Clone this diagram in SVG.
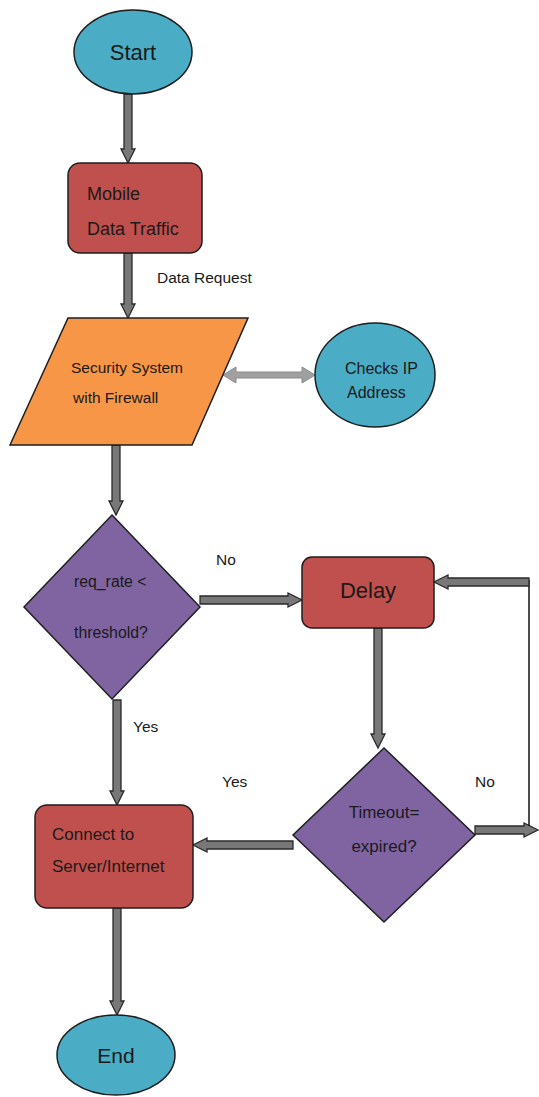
<svg xmlns="http://www.w3.org/2000/svg" width="539" height="1097" viewBox="0 0 539 1097">
<style>
.sh{stroke:#1e1e1e;stroke-width:1.5}
.teal{fill:#4BACC6}
.red{fill:#C0504D}
.org{fill:#F79646}
.pur{fill:#8064A2}
text{font-family:"Liberation Sans",Arial,sans-serif;fill:#1a1a1a}
.arr{fill:#787878;stroke:#2a2a2a;stroke-width:1.3;stroke-linejoin:miter}
.lt{fill:#a0a0a0;stroke:#8a8a8a;stroke-width:1}
</style>
<rect width="539" height="1097" fill="#ffffff"/>
<g id="connectors">
<polygon class="arr" points="124,94 132,94 132,149 135,149 128,163 121,149 124,149"/>
<polygon class="arr" points="124,253 132,253 132,304 135,304 128,318 121,304 124,304"/>
<polygon class="arr" points="112,445 120,445 120,501 123,501 116,515 109,501 112,501"/>
<polygon class="arr" points="200,596 200,604 288,604 288,607 302,600 288,593 288,596"/>
<polygon class="arr" points="113,700 121,700 121,791 124,791 117,805 110,791 113,791"/>
<polygon class="arr" points="374,628 382,628 382,734 385,734 378,748 371,734 374,734"/>
<polygon class="arr" points="293,841 293,849 207,849 207,852 193,845 207,838 207,841"/>
<polygon class="arr" points="475,826 475,834 524,834 524,837 538,830 524,823 524,826"/>
<line x1="529" y1="580" x2="529" y2="826" stroke="#111" stroke-width="1.5"/>
<polygon class="arr" points="529,578 529,586 448,586 448,589 434,582 448,575 448,578"/>
<polygon class="arr" points="113,908 121,908 121,1001 124,1001 117,1015 110,1001 113,1001"/>
<polygon class="lt" points="223,375 236,367 236,372 302,372 302,367 315,375 302,383 302,378 236,378 236,383"/>
</g>
<g id="start"><ellipse class="teal sh" cx="133" cy="52" rx="59" ry="42"/><text x="133" y="60" font-size="22" text-anchor="middle">Start</text></g>
<g id="mobile"><rect class="red sh" x="68" y="163" width="134" height="90" rx="12"/><text x="87" y="200" font-size="18">Mobile</text><text x="87" y="235" font-size="18">Data Traffic</text></g>
<g id="label-data-request"><text x="157" y="283" font-size="15.5">Data Request</text></g>
<g id="security"><polygon class="org sh" points="68,318 248,318 192,445 10,445"/><text x="71" y="373" font-size="15.5">Security System</text><text x="73" y="403" font-size="15.5">with Firewall</text></g>
<g id="checks"><ellipse class="teal sh" cx="375" cy="375" rx="60" ry="52"/><text x="345" y="374" font-size="16">Checks IP</text><text x="347" y="398" font-size="16">Address</text></g>
<g id="decision1"><polygon class="pur sh" points="112,515 200,607 112,699 24,607"/><text x="74" y="587" font-size="15.8">req_rate &lt;</text><text x="74" y="638" font-size="15.8">threshold?</text></g>
<g id="label-no1"><text x="216" y="565" font-size="15.5">No</text></g>
<g id="delay"><rect class="red sh" x="302" y="557" width="132" height="71" rx="10"/><text x="368" y="598" font-size="22" text-anchor="middle">Delay</text></g>
<g id="label-yes1"><text x="133" y="732" font-size="15.5">Yes</text></g>
<g id="label-yes2"><text x="222" y="787" font-size="15.5">Yes</text></g>
<g id="label-no2"><text x="475" y="787" font-size="15.5">No</text></g>
<g id="decision2"><polygon class="pur sh" points="384,748 475,835 384,922 293,835"/><text x="384" y="818" font-size="17" text-anchor="middle">Timeout=</text><text x="384" y="852" font-size="17" text-anchor="middle">expired?</text></g>
<g id="connect"><rect class="red sh" x="35" y="805" width="158" height="103" rx="12"/><text x="52" y="840" font-size="17">Connect to</text><text x="52" y="872" font-size="17">Server/Internet</text></g>
<g id="end"><ellipse class="teal sh" cx="116" cy="1055" rx="59" ry="40"/><text x="116" y="1063" font-size="21" text-anchor="middle">End</text></g>
</svg>
